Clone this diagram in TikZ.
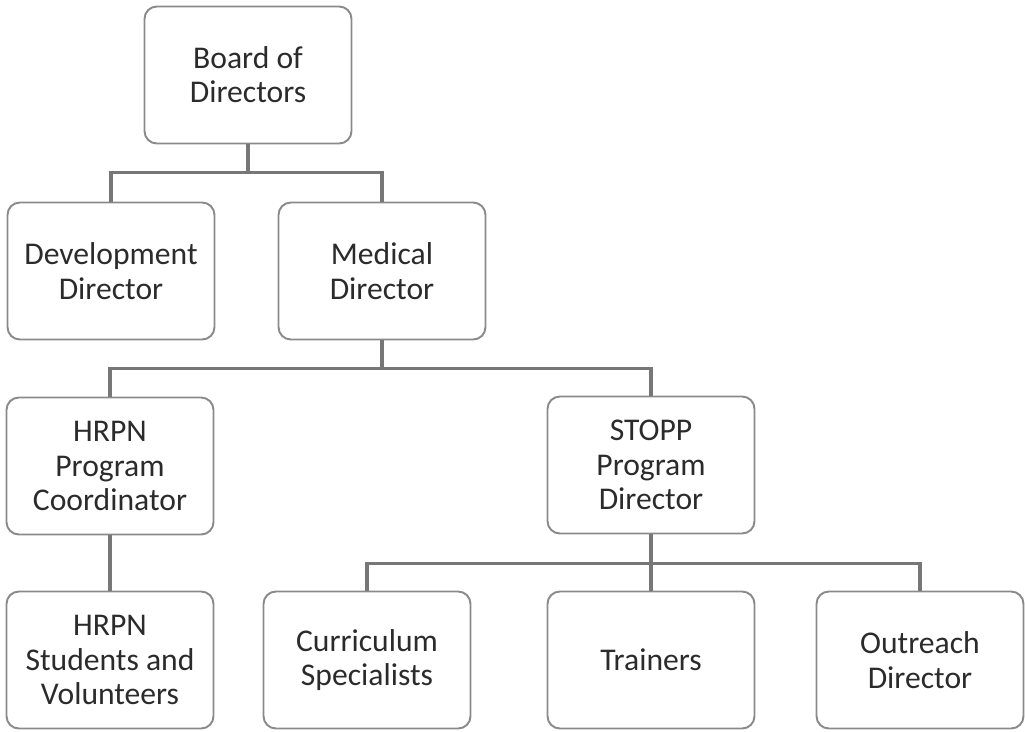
\documentclass[tikz,border=0pt]{standalone}
\usepackage{fontspec}
\setmainfont{Carlito}
\usepackage{xcolor}
\usetikzlibrary{positioning,calc}
\definecolor{boxline}{HTML}{8A8A8A}
\definecolor{linkline}{HTML}{777777}
\definecolor{boxtext}{HTML}{2B2B2B}

\begin{document}
\begin{tikzpicture}[x=0.02cm, y=-0.02cm,
  unit/.style={draw=boxline, line width=1.1pt, rounded corners=7pt,
    minimum width=4.14cm, minimum height=2.74cm, align=center,
    text=boxtext, font=\fontsize{18}{19.5}\selectfont},
  link/.style={draw=linkline, line width=2pt}]

\useasboundingbox (0,0) rectangle (1025,731);

%% === Top level ===
\node[unit] (board) at (248,75) {Board of\\Directors};

%% === Second level ===
\node[unit] (dev) at (111,271) {Development\\Director};
\node[unit] (med) at (382,271) {Medical\\Director};

%% === Third level ===
\node[unit] (hrpn)  at (110,466) {HRPN\\Program\\Coordinator};
\node[unit] (stopp) at (651,465) {STOPP\\Program\\Director};

%% === Bottom level ===
\node[unit] (stud)  at (110,660) {HRPN\\Students and\\Volunteers};
\node[unit] (curr)  at (367,660) {Curriculum\\Specialists};
\node[unit] (train) at (651,660) {Trainers};
\node[unit] (out)   at (920,660) {Outreach\\Director};

%% === Connectors ===
\foreach \kid in {dev, med} {
  \draw[link] (board.south) -- ++(0,28) -| (\kid.north);
}
\foreach \kid in {hrpn, stopp} {
  \draw[link] (med.south) -- ++(0,28) -| (\kid.north);
}
\draw[link] (hrpn.south) -- (stud.north);
\foreach \kid in {curr, train, out} {
  \draw[link] (stopp.south) -- ++(0,29) -| (\kid.north);
}

\end{tikzpicture}
\end{document}
